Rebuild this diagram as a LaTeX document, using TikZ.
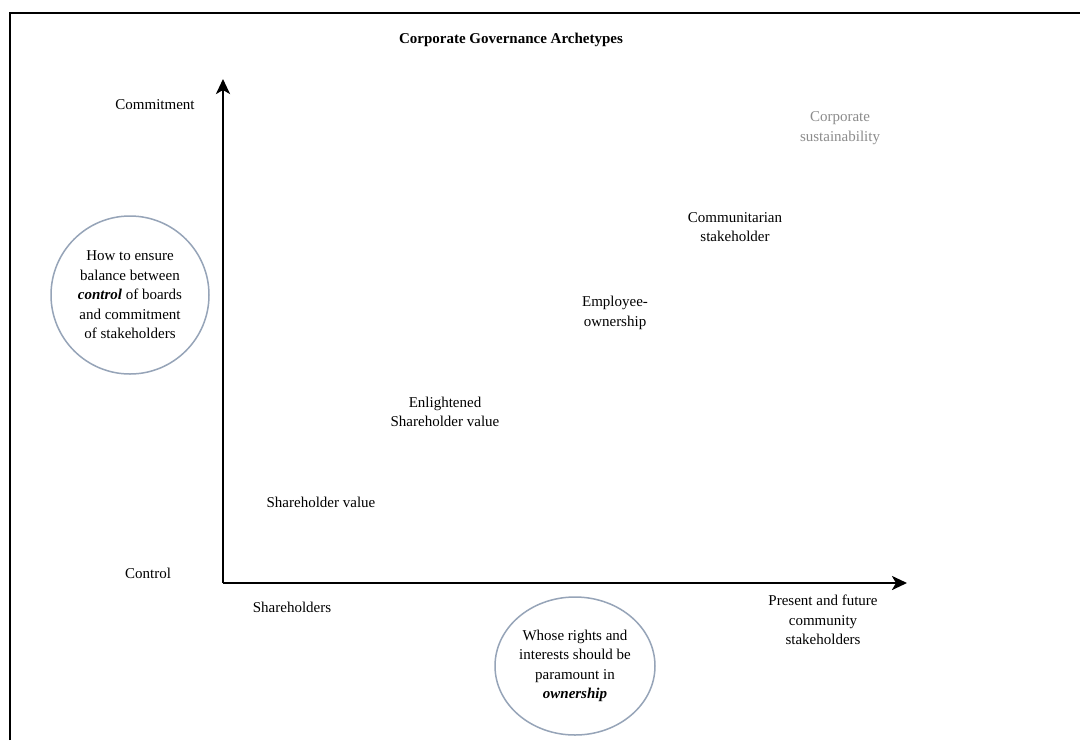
\documentclass[tikz,border=0pt]{standalone}
\usepackage{fontspec}
\setmainfont{Liberation Serif}
\usetikzlibrary{arrows.meta,shapes.geometric}
\definecolor{ringblue}{RGB}{150,164,184}
\definecolor{softgray}{RGB}{140,140,140}
\begin{document}
\begin{tikzpicture}[x=1pt,y=-1pt,
  lbl/.style={font=\fontsize{15}{19.5}\selectfont, align=center, inner sep=0pt},
  axis/.style={line width=2.6pt, -{Stealth[length=15pt,width=14pt,inset=4pt]}},
  frameline/.style={line width=2pt},
  ring/.style={draw=ringblue, line width=1.5pt}]
  \useasboundingbox (0,0) rectangle (1080,740);
  \fill[white] (0,0) rectangle (1080,740);
  % page frame: left and top rules
  \coordinate (fbl) at (10,740);
  \coordinate (ftl) at (10,12.5);
  \coordinate (ftr) at (1080,12.5);
  \draw[frameline] (fbl) -- (ftl) -- (ftr);
  % title
  \node[lbl, font=\bfseries\fontsize{15}{19.5}\selectfont] (title) at (511,40) {Corporate Governance Archetypes};
  % axes
  \coordinate (origin) at (223,583);
  \coordinate (ytip) at (223,79);
  \coordinate (xtip) at (907,583);
  \draw[axis] (origin) -- (ytip);
  \draw[axis] (origin) -- (xtip);
  % axis labels
  \node[lbl] (commit) at (155,105) {Commitment};
  \node[lbl] (control) at (148,573) {Control};
  \node[lbl] (sholders) at (292,607) {Shareholders};
  \node[lbl] (present) at (823,620) {Present and future\\community\\stakeholders};
  % archetypes
  \node[lbl, text=softgray] (corpsus) at (840,128) {Corporate\\sustainability};
  \node[lbl] (commun) at (735,227) {Communitarian\\stakeholder};
  \node[lbl] (employee) at (615,313) {Employee-\\ownership};
  \node[lbl] (enlight) at (445,412) {Enlightened\\Shareholder value};
  \node[lbl] (shval) at (321,502) {Shareholder value};
  % question bubbles
  \node[lbl, ring, circle, minimum size=158pt] (qcontrol) at (130,295)
    {How to ensure\\balance between\\\textbf{\textit{control}} of boards\\and commitment\\of stakeholders};
  \node[lbl, ring, ellipse, minimum width=160pt, minimum height=138pt] (qowner) at (575,666)
    {Whose rights and\\interests should be\\paramount in\\\textbf{\textit{ownership}}};
\end{tikzpicture}
\end{document}
